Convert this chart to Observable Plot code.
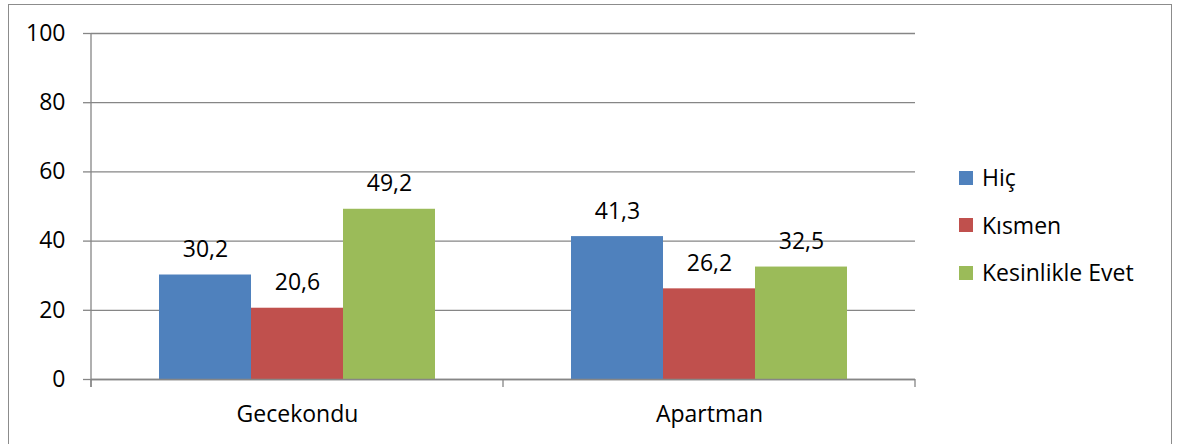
<!DOCTYPE html>
<html>
<head>
<meta charset="utf-8">
<script src="https://cdn.jsdelivr.net/npm/d3@7"></script>
<script src="https://cdn.jsdelivr.net/npm/@observablehq/plot@0.6"></script>
<style>
  html, body { margin: 0; padding: 0; background: #fff; }
  #wrap { position: relative; width: 1177px; height: 444px; overflow: hidden; font-family: "Open Sans", Lato, sans-serif; }
  #frame { position: absolute; left: 8px; top: 4px; width: 1164px; height: 520px; border: 1.5px solid #8c8c8c; box-sizing: border-box; }
  #chart { position: absolute; left: 0; top: 0; }
  #legend { position: absolute; left: 959px; top: 154px; font-size: 23px; color: #000; line-height: 1; }
  .item { display: flex; align-items: center; height: 47.5px; }
  .sw { width: 14px; height: 14px; margin-right: 9px; flex: none; }
</style>
</head>
<body>
<div id="wrap">
  <div id="frame"></div>
  <div id="chart"></div>
  <div id="legend"></div>
</div>
<script>
const groups = ["Gecekondu", "Apartman"];
const series = ["Hiç", "Kısmen", "Kesinlikle Evet"];
const hic = [30.2, 41.3];
const kismen = [20.6, 26.2];
const kesinlikleEvet = [49.2, 32.5];
const yTicks = [0, 20, 40, 60, 80, 100];
const colors = ["#4F81BD", "#C0504D", "#9BBB59"];

const valuesBySeries = [hic, kismen, kesinlikleEvet];
const data = [];
groups.forEach((g, gi) => series.forEach((s, si) => data.push({group: g, series: s, value: valuesBySeries[si][gi]})));
const fmt = v => v.toFixed(1).replace(".", ",");
const gridColor = "#868686";
const font = "'Open Sans', Lato, sans-serif";
const fs = 23;

const plot = Plot.plot({
  width: 1177,
  height: 444,
  marginLeft: 91,
  marginRight: 262,
  marginTop: 33,
  marginBottom: 65,
  style: {fontFamily: font, fontSize: fs + "px", color: "#000", background: "transparent"},
  fx: {domain: groups, padding: 0, label: null},
  x: {domain: series, paddingInner: 0, paddingOuter: 0.739, axis: null},
  y: {domain: [0, 100], label: null},
  color: {domain: series, range: colors},
  marks: [
    Plot.gridY(yTicks, {stroke: gridColor, strokeOpacity: 1, strokeWidth: 1.3}),
    Plot.barY(data, {fx: "group", x: "series", y: "value", fill: "series"}),
    Plot.ruleY([0], {stroke: gridColor, strokeWidth: 1.3}),
    Plot.text(data, {fx: "group", x: "series", y: "value", text: d => fmt(d.value), lineAnchor: "bottom", dy: -18, fontSize: fs, fill: "#000"}),
    Plot.axisY(yTicks, {tickSize: 8, tickPadding: 18, stroke: gridColor, strokeWidth: 1.3, fontSize: fs, label: null, tickFormat: d => d}),
    Plot.axisFx({anchor: "bottom", tickSize: 0, tickPadding: 26, fontSize: fs, label: null})
  ]
});
document.getElementById("chart").appendChild(plot);

// axis line and group-boundary ticks from the library's scales
const fxS = plot.scale("fx");
const yS = plot.scale("y");
const yMap = v => yS.range[0] + (v - yS.domain[0]) / (yS.domain[1] - yS.domain[0]) * (yS.range[1] - yS.range[0]);
const n = fxS.domain.length;
const x0 = fxS.range[0], x1 = fxS.range[1];
const step = (x1 - x0) / n;
const svg = d3.select(plot);
const g = svg.append("g").attr("stroke", gridColor).attr("stroke-width", 1.3);
const yBase = yMap(0);
g.append("line").attr("x1", x0).attr("x2", x0).attr("y1", yMap(100)).attr("y2", yBase + 8);
for (let i = 0; i <= n; i++) {
  const xi = x0 + i * step;
  g.append("line").attr("x1", xi).attr("x2", xi).attr("y1", yBase).attr("y2", yBase + 8);
}

// legend
const leg = document.getElementById("legend");
series.forEach((s, i) => {
  const it = document.createElement("div");
  it.className = "item";
  it.innerHTML = `<div class="sw" style="background:${colors[i]}"></div><span>${s}</span>`;
  leg.appendChild(it);
});
</script>
</body>
</html>
